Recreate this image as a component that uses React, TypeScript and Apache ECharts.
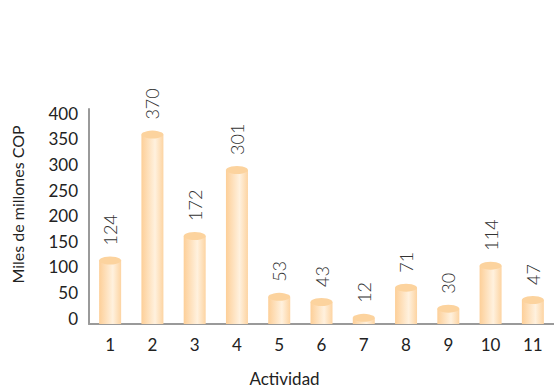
import React, { useEffect, useRef } from "react";
import * as echarts from "echarts";

const categories = ["1", "2", "3", "4", "5", "6", "7", "8", "9", "10", "11"];
const values = [124, 370, 172, 301, 53, 43, 12, 71, 30, 114, 47];
const yTicks = { min: 0, max: 420, interval: 50 };
const yAxisTitle = "Miles de millones COP";
const xAxisTitle = "Actividad";

const FONT = "Lato, 'Open Sans', sans-serif";

export default function App() {
  const ref = useRef<HTMLDivElement>(null);

  useEffect(() => {
    document.body.style.margin = "0";
    if (!ref.current) return;
    const chart = echarts.init(ref.current, null, { renderer: "svg" });

    const bodyGradient = new echarts.graphic.LinearGradient(0, 0, 1, 0, [
      { offset: 0, color: "#fdcf98" },
      { offset: 0.62, color: "#fff1de" },
      { offset: 1, color: "#fdd4a2" },
    ]);

    chart.setOption({
      animation: false,
      backgroundColor: "#ffffff",
      grid: { left: 89, right: -4, top: 109, bottom: 66 },
      xAxis: {
        type: "category",
        data: categories,
        name: xAxisTitle,
        nameLocation: "middle",
        nameGap: 46,
        nameTextStyle: {
          fontFamily: FONT,
          fontSize: 17,
          color: "#222",
          padding: [0, 74, 0, 0],
        },
        axisLine: { lineStyle: { color: "#9a9a9a", width: 2 } },
        axisTick: { show: false },
        axisLabel: {
          fontFamily: FONT,
          fontSize: 17,
          color: "#222",
          margin: 12,
        },
      },
      yAxis: {
        type: "value",
        min: yTicks.min,
        max: yTicks.max,
        interval: yTicks.interval,
        name: yAxisTitle,
        nameLocation: "middle",
        nameRotate: 90,
        nameGap: 64,
        nameTextStyle: {
          fontFamily: FONT,
          fontSize: 16,
          color: "#222",
          padding: [0, 0, 0, 24],
        },
        axisLine: { show: true, lineStyle: { color: "#9a9a9a", width: 2 } },
        axisTick: { show: false },
        splitLine: { show: false },
        axisLabel: {
          fontFamily: FONT,
          fontSize: 17,
          color: "#222",
          margin: 11,
          showMaxLabel: false,
          verticalAlign: "bottom",
          lineHeight: 12,
        },
      },
      series: [
        {
          type: "bar",
          data: values,
          barWidth: 22,
          itemStyle: { color: bodyGradient },
          label: {
            show: true,
            position: "top",
            distance: 15,
            rotate: 90,
            align: "left",
            verticalAlign: "middle",
            fontFamily: FONT,
            fontWeight: 300,
            fontSize: 18,
            color: "#333",
          },
          z: 2,
        },
        {
          type: "pictorialBar",
          data: values,
          symbol: "circle",
          symbolSize: [22, 8],
          symbolPosition: "end",
          symbolOffset: [0, "-50%"],
          itemStyle: { color: "#fcd39e" },
          z: 3,
        },
      ],
    });

    return () => chart.dispose();
  }, []);

  return <div ref={ref} style={{ width: 554, height: 392 }} />;
}
